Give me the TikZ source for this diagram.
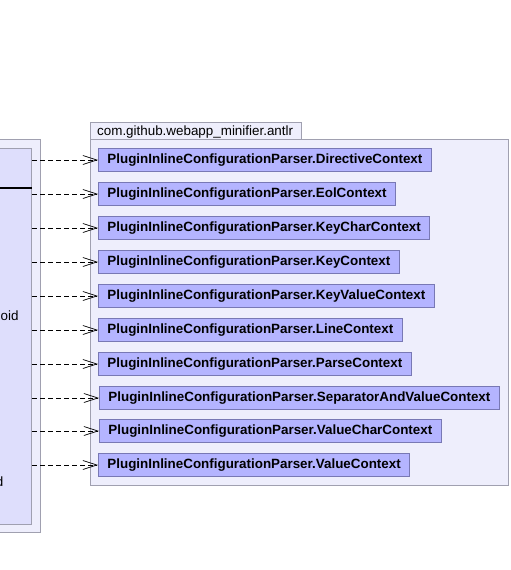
\documentclass[tikz,border=0pt]{standalone}
\usepackage{fontspec}
\setmainfont{Liberation Sans}
\usetikzlibrary{arrows.meta}
\definecolor{pkgfill}{RGB}{238,238,252}
\definecolor{pkgdraw}{RGB}{160,160,176}
\definecolor{clsfill}{RGB}{222,222,252}
\definecolor{nodefill}{RGB}{180,180,255}
\definecolor{nodedraw}{RGB}{120,120,180}
\tikzset{
  pkg/.style={fill=pkgfill, draw=pkgdraw, line width=0.8pt},
  cls/.style={rectangle, anchor=west, fill=nodefill, draw=nodedraw, line width=0.8pt,
    minimum height=23pt, inner xsep=9pt, inner ysep=0pt,
    font=\fontsize{13.4}{15}\selectfont\bfseries},
  dep/.style={dash pattern=on 5pt off 3pt, line width=0.7pt,
    -{Straight Barb[length=14pt,width=9pt,line width=0.7pt]}},
  txt/.style={font=\fontsize{13.4}{15}\selectfont, inner sep=0pt}
}
\begin{document}
\begin{tikzpicture}[x=1pt,y=-1pt]
\useasboundingbox (0,0) rectangle (511,570);
% left package and class
\draw[pkg] (-5,139) rectangle (40,532);
\node[draw=pkgdraw, fill=clsfill, line width=0.8pt, minimum width=37pt, minimum height=376pt, inner sep=0pt, anchor=north east] (lc) at (32,148) {};
\draw[line width=1.4pt] (-5,188) -- (lc.east |- 0,188);
\node[txt, anchor=base west] (t1) at (0.5,320) {oid};
\node[txt, anchor=base east] (t2) at (3.5,486) {d};
% right package
\draw[pkg] (90,122) rectangle (301,139);
\draw[pkg] (90,139) rectangle (508,485);
\node[txt, anchor=base west] (tab) at (97,135.5) {com.github.webapp\_minifier.antlr};
% classes
\node[cls] (n1) at (98,160) {PluginInlineConfigurationParser.DirectiveContext};
\node[cls] (n2) at (98,194) {PluginInlineConfigurationParser.EolContext};
\node[cls] (n3) at (98,228) {PluginInlineConfigurationParser.KeyCharContext};
\node[cls] (n4) at (98,262) {PluginInlineConfigurationParser.KeyContext};
\node[cls] (n5) at (98,296) {PluginInlineConfigurationParser.KeyValueContext};
\node[cls] (n6) at (98,330) {PluginInlineConfigurationParser.LineContext};
\node[cls] (n7) at (98,364) {PluginInlineConfigurationParser.ParseContext};
\node[cls] (n8) at (99,398) {PluginInlineConfigurationParser.SeparatorAndValueContext};
\node[cls] (n9) at (99,431) {PluginInlineConfigurationParser.ValueCharContext};
\node[cls] (n10) at (98,465) {PluginInlineConfigurationParser.ValueContext};
\foreach \n in {n1,n2,n3,n4,n5,n6,n7,n8,n9,n10}
  \draw[dep] (lc.east |- \n.west) -- (\n.west);
\end{tikzpicture}
\end{document}
